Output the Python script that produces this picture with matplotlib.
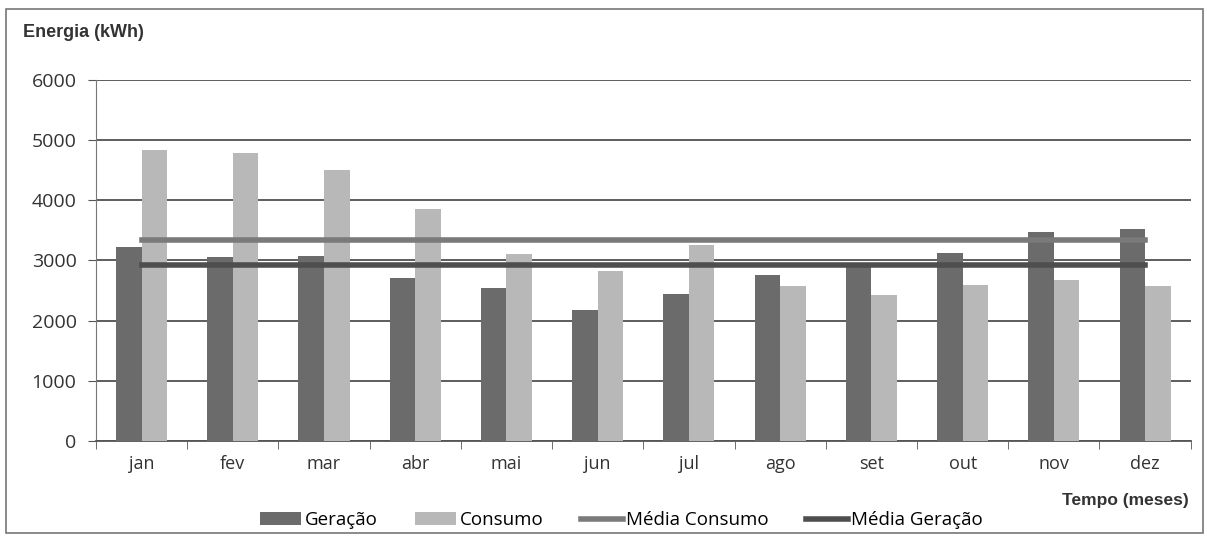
import matplotlib.pyplot as plt
import matplotlib.patches as mpatches
import numpy as np

plt.rcParams['font.family'] = ['Open Sans', 'DejaVu Sans']

meses = ['jan', 'fev', 'mar', 'abr', 'mai', 'jun', 'jul', 'ago', 'set', 'out', 'nov', 'dez']
geracao = [3230, 3050, 3070, 2700, 2550, 2180, 2450, 2750, 2930, 3120, 3480, 3530]
consumo = [4830, 4780, 4500, 3850, 3100, 2830, 3250, 2580, 2420, 2600, 2680, 2570]

media_consumo = np.mean(consumo)
media_geracao = np.mean(geracao)

fig = plt.figure(figsize=(12.07, 5.37), dpi=100)
ax = fig.add_axes([0.0795, 0.179, 0.907, 0.672])

x = np.arange(len(meses))
w = 0.28
b1 = ax.bar(x - w / 2, geracao, w, color='#6b6b6b', label='Geração', zorder=3)
b2 = ax.bar(x + w / 2, consumo, w, color='#b8b8b8', label='Consumo', zorder=3)
l1, = ax.plot(x, [media_consumo] * len(x), color='#7a7a7a', lw=4, label='Média Consumo', zorder=4)
l2, = ax.plot(x, [media_geracao] * len(x), color='#4e4e4e', lw=4, label='Média Geração', zorder=4)

ax.set_xlim(-0.5, 11.5)
ax.set_ylim(0, 6000)
ax.set_yticks(np.arange(0, 6001, 1000))
ax.yaxis.grid(True, color='#505050', lw=1.3, zorder=0)

# ticks between categories like excel
ax.set_xticks(x)
ax.set_xticklabels(meses)
ax.set_xticks(np.arange(-0.5, 12, 1), minor=True)
ax.tick_params(axis='x', which='major', length=0, pad=10, labelsize=13, colors='#333333')
ax.tick_params(axis='x', which='minor', length=6, color='#555555', direction='out')
ax.tick_params(axis='y', length=6, color='#555555', labelsize=14, colors='#333333', pad=8)

for s in ['top', 'right']:
    ax.spines[s].set_visible(False)
ax.spines['left'].set_color('#777777')
ax.spines['bottom'].set_color('#555555')
ax.spines['bottom'].set_linewidth(1.3)

fig.text(0.019, 0.94, 'Energia (kWh)', fontsize=13, fontweight='bold',
         family=['Liberation Sans', 'DejaVu Sans'], color='#333333', va='center')
fig.text(0.985, 0.068, 'Tempo (meses)', fontsize=12.5, fontweight='bold',
         family=['Liberation Sans', 'DejaVu Sans'], color='#333333', ha='right', va='center')

ax.legend([b1, b2, l1, l2], ['Geração', 'Consumo', 'Média Consumo', 'Média Geração'],
          loc='center', bbox_to_anchor=(0.48, -0.22), ncol=4, frameon=False,
          fontsize=13.5, handlelength=2.2, handletextpad=0.2, columnspacing=2.0)

fig.patches.append(mpatches.Rectangle((0.005, 0.008), 0.992, 0.975, transform=fig.transFigure,
                                      fill=False, edgecolor='#777777', lw=1.2))

fig.savefig('out.png', dpi=100)
